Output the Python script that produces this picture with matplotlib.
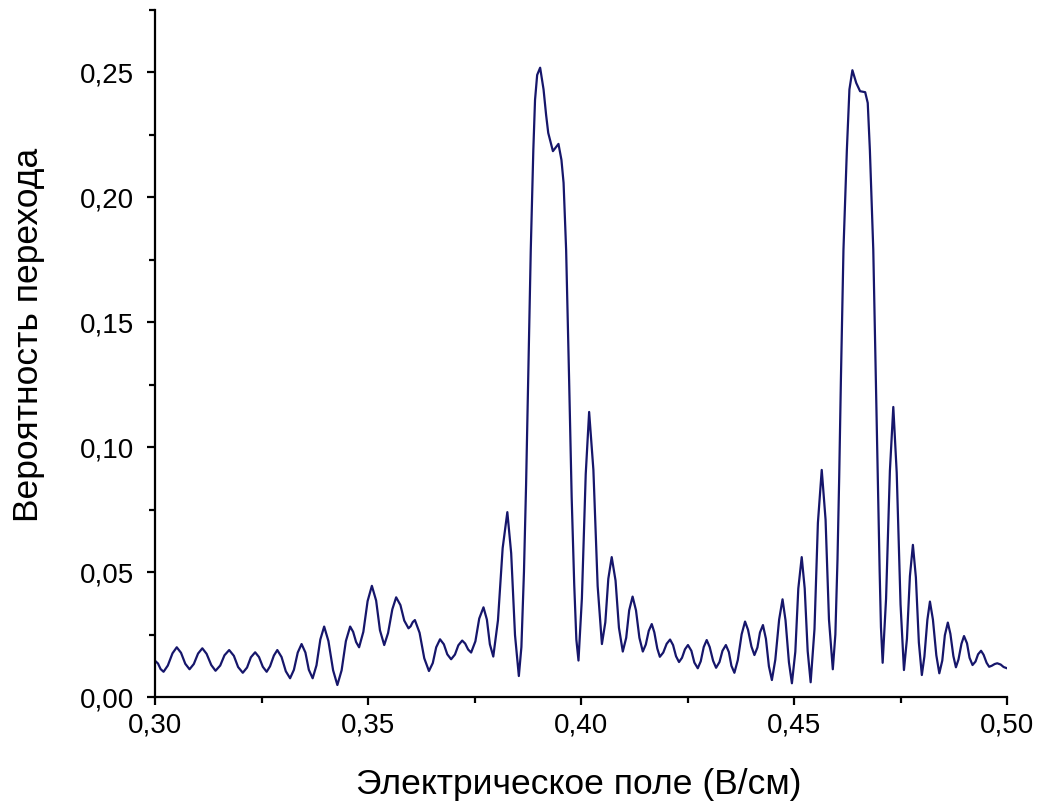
import matplotlib
matplotlib.use("Agg")
import matplotlib.pyplot as plt
from matplotlib.ticker import FixedLocator, FuncFormatter

# Electric field (V/cm) and transition probability
field = [
    0.3000, 0.3007, 0.3013, 0.3020, 0.3030, 0.3041, 0.3051, 0.3061, 0.3071, 0.3081,
    0.3091, 0.3101, 0.3111, 0.3121, 0.3132, 0.3142, 0.3153, 0.3163, 0.3174, 0.3185,
    0.3195, 0.3206, 0.3216, 0.3225, 0.3235, 0.3244, 0.3253, 0.3262, 0.3270, 0.3279,
    0.3287, 0.3297, 0.3307, 0.3317, 0.3326, 0.3335, 0.3344, 0.3353, 0.3361, 0.3370,
    0.3379, 0.3388, 0.3397, 0.3407, 0.3418, 0.3428, 0.3438, 0.3448, 0.3458, 0.3465,
    0.3472, 0.3479, 0.3489, 0.3499, 0.3509, 0.3519, 0.3528, 0.3538, 0.3547, 0.3557,
    0.3566, 0.3576, 0.3585, 0.3595, 0.3600, 0.3605, 0.3610, 0.3621, 0.3632, 0.3643,
    0.3652, 0.3660, 0.3669, 0.3678, 0.3686, 0.3695, 0.3704, 0.3712, 0.3721, 0.3728,
    0.3735, 0.3742, 0.3752, 0.3761, 0.3771, 0.3779, 0.3786, 0.3794, 0.3805, 0.3816,
    0.3827, 0.3836, 0.3845, 0.3854,
    # first main peak
    0.3860, 0.3866, 0.3871, 0.3876, 0.3882, 0.3888, 0.3892, 0.3897, 0.3904, 0.3912,
    0.3918, 0.3923, 0.3934, 0.3947, 0.3954, 0.3959, 0.3965, 0.3972, 0.3978, 0.3984,
    0.3989, 0.3994,
    0.4002, 0.4011, 0.4019, 0.4029, 0.4039, 0.4049, 0.4057, 0.4064, 0.4072, 0.4081,
    0.4089, 0.4098, 0.4106, 0.4113, 0.4121, 0.4129, 0.4137, 0.4145, 0.4152, 0.4159,
    0.4166, 0.4172, 0.4179, 0.4185, 0.4193, 0.4201, 0.4209, 0.4216, 0.4223, 0.4230,
    0.4237, 0.4244, 0.4251, 0.4259, 0.4266, 0.4274, 0.4281, 0.4288, 0.4295, 0.4302,
    0.4310, 0.4317, 0.4325, 0.4332, 0.4340, 0.4347, 0.4353, 0.4360, 0.4368, 0.4377,
    0.4385, 0.4392, 0.4400, 0.4407, 0.4414, 0.4420, 0.4427, 0.4434, 0.4441, 0.4448,
    0.4456, 0.4465, 0.4473, 0.4480, 0.4488, 0.4495, 0.4503, 0.4510, 0.4518, 0.4525,
    0.4532, 0.4539, 0.4548, 0.4556, 0.4565, 0.4574, 0.4582, 0.4591,
    # second main peak
    0.4597, 0.4602, 0.4606, 0.4610, 0.4616, 0.4624, 0.4630, 0.4637, 0.4646, 0.4655,
    0.4667, 0.4673, 0.4678, 0.4686, 0.4692, 0.4697, 0.4701, 0.4704, 0.4708,
    0.4716, 0.4725, 0.4733, 0.4741, 0.4750, 0.4758, 0.4765, 0.4772, 0.4779, 0.4786,
    0.4793, 0.4800, 0.4806, 0.4813, 0.4819, 0.4826, 0.4834, 0.4841, 0.4848, 0.4854,
    0.4861, 0.4867, 0.4874, 0.4880, 0.4886, 0.4893, 0.4899, 0.4906, 0.4912, 0.4919,
    0.4926, 0.4932, 0.4939, 0.4945, 0.4952, 0.4958, 0.4964, 0.4971, 0.4977, 0.4985,
    0.4992, 0.5000,
]

prob = [
    0.0145, 0.0134, 0.0112, 0.0101, 0.0126, 0.0175, 0.0199, 0.0177, 0.0133, 0.0111,
    0.0132, 0.0174, 0.0195, 0.0173, 0.0128, 0.0105, 0.0126, 0.0167, 0.0188, 0.0165,
    0.0120, 0.0097, 0.0118, 0.0159, 0.0179, 0.0160, 0.0121, 0.0101, 0.0123, 0.0166,
    0.0188, 0.0160, 0.0103, 0.0075, 0.0109, 0.0178, 0.0212, 0.0178, 0.0109, 0.0075,
    0.0127, 0.0230, 0.0282, 0.0224, 0.0107, 0.0048, 0.0107, 0.0224, 0.0282, 0.0261,
    0.0220, 0.0199, 0.0261, 0.0384, 0.0445, 0.0386, 0.0267, 0.0208, 0.0256, 0.0351,
    0.0399, 0.0368, 0.0306, 0.0275, 0.0283, 0.0300, 0.0308, 0.0257, 0.0155, 0.0104,
    0.0136, 0.0199, 0.0231, 0.0211, 0.0171, 0.0151, 0.0170, 0.0207, 0.0226, 0.0214,
    0.0190, 0.0178, 0.0223, 0.0314, 0.0359, 0.0310, 0.0211, 0.0162, 0.0307, 0.0596,
    0.0740, 0.0576, 0.0248, 0.0084,
    0.0200, 0.0500, 0.0850, 0.1270, 0.1790, 0.2190, 0.2390, 0.2490, 0.2519, 0.2432,
    0.2330, 0.2258, 0.2185, 0.2214, 0.2150, 0.2058, 0.1790, 0.1270, 0.0800, 0.0450,
    0.0230, 0.0146,
    0.0395, 0.0892, 0.1141, 0.0909, 0.0444, 0.0212, 0.0299, 0.0473, 0.0560, 0.0466,
    0.0277, 0.0182, 0.0237, 0.0347, 0.0402, 0.0347, 0.0237, 0.0182, 0.0210, 0.0265,
    0.0292, 0.0259, 0.0194, 0.0161, 0.0178, 0.0213, 0.0230, 0.0208, 0.0163, 0.0140,
    0.0157, 0.0191, 0.0208, 0.0185, 0.0138, 0.0115, 0.0143, 0.0200, 0.0228, 0.0200,
    0.0145, 0.0117, 0.0140, 0.0185, 0.0208, 0.0180, 0.0125, 0.0097, 0.0148, 0.0251,
    0.0302, 0.0269, 0.0202, 0.0168, 0.0198, 0.0258, 0.0288, 0.0233, 0.0123, 0.0068,
    0.0149, 0.0310, 0.0391, 0.0307, 0.0139, 0.0055, 0.0181, 0.0434, 0.0560, 0.0435,
    0.0184, 0.0059, 0.0272, 0.0697, 0.0909, 0.0710, 0.0310, 0.0111,
    0.0250, 0.0550, 0.0880, 0.1270, 0.1790, 0.2190, 0.2432, 0.2509, 0.2458, 0.2425,
    0.2421, 0.2378, 0.2190, 0.1790, 0.1270, 0.0850, 0.0500, 0.0280, 0.0137,
    0.0393, 0.0905, 0.1161, 0.0898, 0.0371, 0.0108, 0.0233, 0.0484, 0.0609, 0.0479,
    0.0218, 0.0088, 0.0162, 0.0309, 0.0382, 0.0310, 0.0167, 0.0095, 0.0146, 0.0247,
    0.0298, 0.0253, 0.0164, 0.0119, 0.0150, 0.0213, 0.0244, 0.0215, 0.0157, 0.0128,
    0.0142, 0.0171, 0.0185, 0.0169, 0.0137, 0.0121, 0.0125, 0.0132, 0.0135, 0.0130,
    0.0120, 0.0115,
]

x_ticks = [0.30, 0.35, 0.40, 0.45, 0.50]
x_minor = [0.325, 0.375, 0.425, 0.475]
y_ticks = [0.00, 0.05, 0.10, 0.15, 0.20, 0.25]
y_minor = [0.025, 0.075, 0.125, 0.175, 0.225, 0.275]

x_label = "Электрическое поле (В/см)"
y_label = "Вероятность перехода"


def comma(v, pos):
    return f"{v:.2f}".replace(".", ",")


def main():
    plt.rcParams["font.family"] = ["Liberation Sans", "DejaVu Sans"]

    fig = plt.figure(figsize=(10.44, 8.07), dpi=100)
    ax = fig.add_axes([0.1485, 0.1363, 0.8161, 0.8513])

    ax.plot(field, prob, color="#16166b", lw=1.6)

    ax.set_xlim(0.30, 0.50)
    ax.set_ylim(0.0, 0.275)

    ax.xaxis.set_major_locator(FixedLocator(x_ticks))
    ax.xaxis.set_minor_locator(FixedLocator(x_minor))
    ax.yaxis.set_major_locator(FixedLocator(y_ticks))
    ax.yaxis.set_minor_locator(FixedLocator(y_minor))
    ax.xaxis.set_major_formatter(FuncFormatter(comma))
    ax.yaxis.set_major_formatter(FuncFormatter(comma))

    for side in ("top", "right"):
        ax.spines[side].set_visible(False)
    for side in ("left", "bottom"):
        ax.spines[side].set_linewidth(1.6)

    ax.tick_params(which="major", direction="out", length=6, width=1.6,
                   labelsize=20)
    ax.tick_params(which="minor", direction="out", length=4, width=1.6)
    ax.tick_params(axis="y", which="major", pad=9)
    ax.tick_params(axis="x", which="major", pad=5)

    ax.set_xlabel(x_label, fontsize=25.5)
    ax.set_ylabel(y_label, fontsize=25.5)
    ax.xaxis.set_label_coords(0.497, -0.103)
    ax.yaxis.set_label_coords(-0.129, 0.527)

    fig.savefig("out.png", dpi=100)


if __name__ == "__main__":
    main()
